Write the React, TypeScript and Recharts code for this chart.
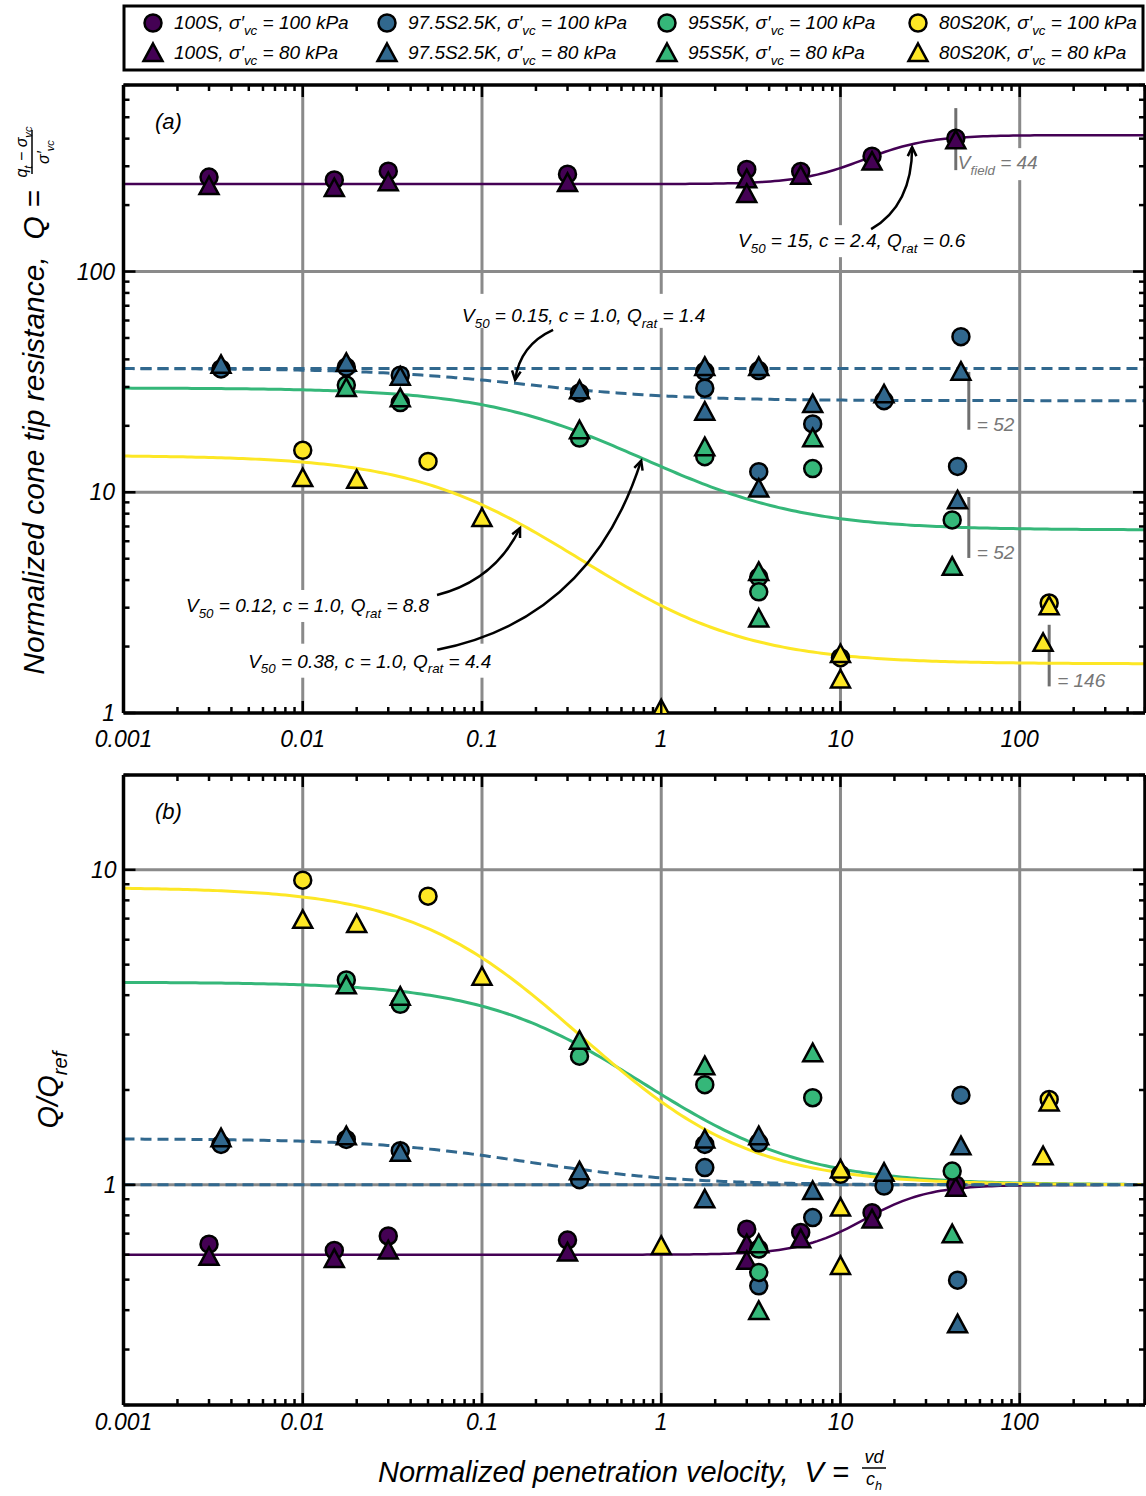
import React from 'react';
import { ComposedChart, XAxis, YAxis, Scatter, Line, ReferenceLine, ReferenceDot } from 'recharts';

const FONT = '"Liberation Sans", Arial, Helvetica, sans-serif';
const PURPLE = '#440154';
const BLUE = '#31688e';
const GREEN = '#35b779';
const YELLOW = '#fde725';
const GRID = '#8a8a8a';
const FIELD = '#6f6f6f';

type Pt = [number, number];

// ---------- axes ----------
const X_DOMAIN: [number, number] = [0.001, 500];
const X_MAJOR = [0.001, 0.01, 0.1, 1, 10, 100];
const X_LABELS = ['0.001', '0.01', '0.1', '1', '10', '100'];
const QA_DOMAIN: [number, number] = [1, 700];
const QA_MAJOR = [1, 10, 100];
const QA_LABELS = ['1', '10', '100'];
const QB_DOMAIN: [number, number] = [0.2, 20];
const QB_MAJOR = [1, 10];
const QB_LABELS = ['1', '10'];

// ---------- mixes ----------
const MIXES = ['100S', '97.5S2.5K', '95S5K', '80S20K'];
const MIX_COLORS = [PURPLE, BLUE, GREEN, YELLOW];
const STRESSES = [100, 80];

// backbone fit parameters (per mix)
const FIT_V50 = [15, 0.15, 0.38, 0.12];
const FIT_C = [2.4, 1.0, 1.0, 1.0];
const FIT_QRAT = [0.6, 1.4, 4.4, 8.8];
const FIT_QREF = [415, 26.0, 6.75, 1.67];

// field velocities
const FIELD_V = [44, 52, 52, 146];
const FIELD_TOP = [550, 35.1, 9.52, 2.51];
const FIELD_BOTTOM = [288, 19.2, 5.04, 1.32];

// ---------- panel (a): Q ----------
const S100_100A: Pt[] = [[0.003, 268], [0.015, 260], [0.03, 285], [0.3, 276], [3, 290], [6, 284], [15, 333], [44, 402]];
const S100_80A: Pt[] = [[0.003, 244], [0.015, 239], [0.03, 254], [0.3, 252], [3, 262], [3, 225], [6, 272], [15, 315], [44, 394]];
const K25_100A: Pt[] = [[0.0035, 36.2], [0.0175, 36.9], [0.035, 33.9], [0.35, 28.2], [1.75, 35.3], [1.75, 29.6], [3.5, 35.6], [3.5, 12.4], [7, 20.4], [17.5, 26.0], [45, 13.1], [47, 50.7]];
const K25_80A: Pt[] = [[0.0035, 37.8], [0.0175, 38.6], [0.035, 33.4], [0.35, 29.0], [1.75, 37.0], [1.75, 23.2], [3.5, 37.0], [3.5, 10.4], [7, 25.1], [17.5, 27.8], [47, 35.2], [45, 9.2]];
const K5_100A: Pt[] = [[0.0175, 30.6], [0.035, 25.5], [0.35, 17.6], [1.75, 14.5], [3.5, 4.13], [3.5, 3.54], [7, 12.8], [42, 7.49]];
const K5_80A: Pt[] = [[0.0175, 29.7], [0.035, 26.7], [0.35, 19.1], [1.75, 16.0], [3.5, 4.36], [3.5, 2.68], [7, 17.6], [42, 4.6]];
const K20_100A: Pt[] = [[0.01, 15.5], [0.05, 13.8], [10, 1.78], [146, 3.15]];
const K20_80A: Pt[] = [[0.01, 11.6], [0.02, 11.4], [0.1, 7.65], [1, 1.04], [10, 1.85], [10, 1.42], [146, 3.05], [135, 2.08]];

// ---------- panel (b): Q/Qref ----------
const S100_100B: Pt[] = [[0.003, 0.648], [0.015, 0.619], [0.03, 0.688], [0.3, 0.668], [3, 0.723], [6, 0.706], [15, 0.816], [44, 1.0]];
const S100_80B: Pt[] = [[0.003, 0.591], [0.015, 0.582], [0.03, 0.619], [0.3, 0.61], [3, 0.648], [3, 0.574], [6, 0.672], [15, 0.777], [44, 0.98]];
const K25_100B: Pt[] = [[0.0035, 1.344], [0.0175, 1.394], [0.035, 1.284], [0.35, 1.038], [1.75, 1.344], [1.75, 1.134], [3.5, 1.36], [3.5, 0.478], [7, 0.787], [17.5, 0.991], [45, 0.498], [47, 1.926]];
const K25_80B: Pt[] = [[0.0035, 1.406], [0.0175, 1.428], [0.035, 1.265], [0.35, 1.104], [1.75, 1.394], [1.75, 0.9], [3.5, 1.428], [7, 0.956], [17.5, 1.093], [47, 1.327], [45, 0.361]];
const K5_100B: Pt[] = [[0.0175, 4.47], [0.035, 3.74], [0.35, 2.56], [1.75, 2.08], [3.5, 0.625], [3.5, 0.527], [7, 1.89], [42, 1.106]];
const K5_80B: Pt[] = [[0.0175, 4.3], [0.035, 3.96], [0.35, 2.87], [1.75, 2.38], [3.5, 0.648], [3.5, 0.398], [7, 2.62], [42, 0.697]];
const K20_100B: Pt[] = [[0.01, 9.27], [0.05, 8.25], [10, 1.08], [146, 1.866]];
const K20_80B: Pt[] = [[0.01, 6.94], [0.02, 6.73], [0.1, 4.58], [1, 0.64], [10, 1.12], [10, 0.847], [10, 0.553], [146, 1.826], [135, 1.234]];

const CIRCLES_A = [S100_100A, K25_100A, K5_100A, K20_100A];
const TRIANGLES_A = [S100_80A, K25_80A, K5_80A, K20_80A];
const CIRCLES_B = [S100_100B, K25_100B, K5_100B, K20_100B];
const TRIANGLES_B = [S100_80B, K25_80B, K5_80B, K20_80B];

// ---------- helpers ----------
const toRows = (pts: Pt[]) => pts.map(([v, q]) => ({ v, q }));

function decadeTicks([lo, hi]: [number, number]) {
  const out: number[] = [];
  for (let e = Math.floor(Math.log10(lo)); e <= Math.ceil(Math.log10(hi)); e++) {
    for (let m = 1; m <= 9; m++) {
      const v = Number((m * Math.pow(10, e)).toPrecision(6));
      if (v >= lo * 0.999999 && v <= hi * 1.000001) out.push(v);
    }
  }
  return out;
}
const X_TICKS = decadeTicks(X_DOMAIN);
const QA_TICKS = decadeTicks(QA_DOMAIN);
const QB_TICKS = decadeTicks(QB_DOMAIN);

// backbone curve Q/Qref
const backbone = (v: number, k: number) => 1 + (FIT_QRAT[k] - 1) / (1 + Math.pow(v / FIT_V50[k], FIT_C[k]));
const V_SAMPLES = Array.from({ length: 241 }, (_, i) => Math.pow(10, -3 + (i * (Math.log10(500) + 3)) / 240));
const curveA = (k: number) => V_SAMPLES.map((v) => ({ v, q: FIT_QREF[k] * backbone(v, k) }));
const curveB = (k: number) => V_SAMPLES.map((v) => ({ v, q: backbone(v, k) }));

type Seg = { t: string; sub?: boolean };
const s = (t: string, sub = false): Seg => ({ t, sub });

function MathText({ x, y, segs, size, fill = '#000', anchor = 'start' }: { x: number; y: number; segs: Seg[]; size: number; fill?: string; anchor?: string }) {
  let shift = 0;
  const kids = segs.map((g, i) => {
    const target = g.sub ? size * 0.3 : 0;
    const dy = target - shift;
    shift = target;
    return (
      <tspan key={i} dy={dy} fontSize={g.sub ? size * 0.7 : size}>
        {g.t}
      </tspan>
    );
  });
  return (
    <text x={x} y={y} fontFamily={FONT} fontStyle="italic" fontSize={size} fill={fill} textAnchor={anchor as any} style={{ whiteSpace: 'pre' }}>
      {kids}
    </text>
  );
}

const sigmaVc = (pre: string, post: string): Seg[] => [s(pre + 'σ′'), s('vc', true), s(post)];
const fitLabel = (k: number): Seg[] => [
  s('V'), s('50', true), s(` = ${FIT_V50[k]}, c = ${FIT_C[k].toFixed(1)}, Q`), s('rat', true), s(` = ${FIT_QRAT[k].toFixed(1)}`),
];

// ---------- markers ----------
const R = 8.5;
const circleShape = (fill: string) => (p: any) => (
  <circle cx={p.cx} cy={p.cy} r={R} fill={fill} stroke="#000" strokeWidth={2.5} />
);
const triPath = (cx: number, cy: number, h = 9.5) => `M${cx},${cy - h}L${cx + h},${cy + h * 0.85}L${cx - h},${cy + h * 0.85}Z`;
const triangleShape = (fill: string) => (p: any) => (
  <path d={triPath(p.cx, p.cy)} fill={fill} stroke="#000" strokeWidth={2.5} />
);

// ---------- ticks ----------
function axisTick(side: 'bottom' | 'top' | 'left' | 'right', majors: number[], labels: string[], gap = 0) {
  return (props: any) => {
    const { x, y, payload } = props;
    const v = Number(payload?.value);
    const idx = majors.findIndex((m) => Math.abs(m - v) / m < 1e-6);
    const len = idx >= 0 ? 12 : 6;
    let x2 = x;
    let y2 = y;
    if (side === 'bottom') y2 = y - len;
    if (side === 'top') y2 = y + len;
    if (side === 'left') x2 = x + len;
    if (side === 'right') x2 = x - len;
    return (
      <g>
        <line x1={x} y1={y} x2={x2} y2={y2} stroke="#000" strokeWidth={2.5} />
        {idx >= 0 && side === 'bottom' && (
          <text x={x} y={y + gap} textAnchor="middle" dominantBaseline="central" fontFamily={FONT} fontStyle="italic" fontSize={23} fill="#000">
            {labels[idx]}
          </text>
        )}
        {idx >= 0 && side === 'left' && (
          <text x={x - gap} y={y} textAnchor="end" dominantBaseline="central" fontFamily={FONT} fontStyle="italic" fontSize={23} fill="#000">
            {labels[idx]}
          </text>
        )}
      </g>
    );
  };
}

const AXIS_LINE = { stroke: '#000', strokeWidth: 3.5 };

function frameAxes(yDomain: [number, number], yTicks: number[], yMajor: number[], yLabels: string[], xGap: number, yGap: number) {
  const common = { type: 'number' as const, scale: 'log' as const, allowDataOverflow: true, interval: 0 as const, tickSize: 0, tickMargin: 0, tickLine: false, axisLine: AXIS_LINE };
  return [
    <XAxis key="xb" dataKey="v" domain={X_DOMAIN} ticks={X_TICKS} height={1} tick={axisTick('bottom', X_MAJOR, X_LABELS, xGap)} {...common} />,
    <XAxis key="xt" xAxisId="t" orientation="top" dataKey="v" domain={X_DOMAIN} ticks={X_TICKS} height={1} tick={axisTick('top', X_MAJOR, X_LABELS)} {...common} />,
    <YAxis key="yl" domain={yDomain} ticks={yTicks} width={1} tick={axisTick('left', yMajor, yLabels, yGap)} {...common} />,
    <YAxis key="yr" yAxisId="r" orientation="right" domain={yDomain} ticks={yTicks} width={1} tick={axisTick('right', yMajor, yLabels)} {...common} />,
  ];
}

function gridLines(yMajor: number[], yDomain: [number, number]) {
  return [
    ...X_MAJOR.filter((v) => v > X_DOMAIN[0]).map((v) => (
      <ReferenceLine key={`gx${v}`} x={v} stroke={GRID} strokeWidth={3} zIndex={-50} />
    )),
    ...yMajor.filter((v) => v > yDomain[0]).map((v) => (
      <ReferenceLine key={`gy${v}`} y={v} stroke={GRID} strokeWidth={3} zIndex={-50} />
    )),
  ];
}

function markerSeries(circles: Pt[][], triangles: Pt[][], tag: string) {
  const out: any[] = [];
  MIX_COLORS.forEach((c, k) => {
    out.push(<Scatter key={`${tag}c${k}`} data={toRows(circles[k])} dataKey="q" shape={circleShape(c)} isAnimationActive={false} />);
    out.push(<Scatter key={`${tag}t${k}`} data={toRows(triangles[k])} dataKey="q" shape={triangleShape(c)} isAnimationActive={false} />);
  });
  return out;
}

// ---------- annotations in panel (a) ----------
type Note = { k: number; v: number; q: number; tail: Pt; bend: Pt; at: Pt; box: [number, number, number, number] };
const NOTES: Note[] = [
  { k: 0, v: 25.1, q: 366, tail: [-41, 82], bend: [0, 58], at: [-174, 100], box: [-178, 78, 240, 32] },
  { k: 1, v: 0.153, q: 32.3, tail: [38, -50], bend: [5, -35], at: [-53, -58], box: [-57, -86, 258, 34] },
  { k: 3, v: 0.163, q: 6.89, tail: [-83, 67], bend: [-25, 52], at: [-334, 84], box: [-338, 62, 258, 32] },
  { k: 2, v: 0.773, q: 13.9, tail: [-204, 189], bend: [-51, 159], at: [-393, 207], box: [-397, 183, 258, 34] },
];

const noteShape = (n: Note) => (p: any) => {
  const { cx, cy } = p;
  const tx = cx + n.tail[0];
  const ty = cy + n.tail[1];
  const bx = cx + n.bend[0];
  const by = cy + n.bend[1];
  const ang = Math.atan2(cy - by, cx - bx);
  const hl = 10;
  const ha = 0.45;
  const h1x = cx - hl * Math.cos(ang - ha);
  const h1y = cy - hl * Math.sin(ang - ha);
  const h2x = cx - hl * Math.cos(ang + ha);
  const h2y = cy - hl * Math.sin(ang + ha);
  return (
    <g>
      <rect x={cx + n.box[0]} y={cy + n.box[1]} width={n.box[2]} height={n.box[3]} fill="#fff" />
      <MathText x={cx + n.at[0]} y={cy + n.at[1]} size={19} segs={fitLabel(n.k)} />
      <path d={`M${tx},${ty}Q${bx},${by} ${cx},${cy}`} fill="none" stroke="#000" strokeWidth={2.5} />
      <path d={`M${h1x},${h1y}L${cx},${cy}L${h2x},${h2y}`} fill="none" stroke="#000" strokeWidth={2.5} />
    </g>
  );
};

const fieldLabelShape = (i: number) => (p: any) => {
  const { cx, cy } = p;
  if (i === 0) {
    return (
      <g>
        <rect x={cx + 2} y={cy - 22} width={88} height={32} fill="#fff" />
        <MathText x={cx + 2} y={cy - 1} size={19} fill="#777" segs={[s('V'), s('field', true), s(` = ${FIELD_V[i]}`)]} />
      </g>
    );
  }
  return <MathText x={cx + 8} y={cy + 1} size={19} fill="#777" segs={[s(`= ${FIELD_V[i]}`)]} />;
};

// ---------- panels ----------
function PanelA() {
  return (
    <ComposedChart width={1146} height={760} margin={{ top: 84, right: 0, bottom: 46, left: 122.5 }}>
      {gridLines(QA_MAJOR, QA_DOMAIN)}
      {FIELD_V.map((v, i) => (
        <ReferenceLine key={`f${i}`} segment={[{ x: v, y: FIELD_TOP[i] }, { x: v, y: FIELD_BOTTOM[i] }]} stroke={FIELD} strokeWidth={3} />
      ))}
      <Line data={curveA(0)} dataKey="q" type="linear" stroke={PURPLE} strokeWidth={2.5} dot={false} isAnimationActive={false} />
      <Line data={curveA(2)} dataKey="q" type="linear" stroke={GREEN} strokeWidth={3} dot={false} isAnimationActive={false} />
      <Line data={curveA(3)} dataKey="q" type="linear" stroke={YELLOW} strokeWidth={3} dot={false} isAnimationActive={false} />
      <ReferenceLine y={FIT_QREF[1] * FIT_QRAT[1]} stroke={BLUE} strokeWidth={3} strokeDasharray="11 6" />
      <Line data={curveA(1)} dataKey="q" type="linear" stroke={BLUE} strokeWidth={3} strokeDasharray="11 6" dot={false} isAnimationActive={false} />
      {FIELD_V.map((v, i) => (
        <ReferenceDot key={`fl${i}`} x={v} y={FIELD_BOTTOM[i]} shape={fieldLabelShape(i)} />
      ))}
      {NOTES.map((n, i) => (
        <ReferenceDot key={`n${i}`} x={n.v} y={n.q} shape={noteShape(n)} />
      ))}
      {markerSeries(CIRCLES_A, TRIANGLES_A, 'a')}
      {frameAxes(QA_DOMAIN, QA_TICKS, QA_MAJOR, QA_LABELS, 26, 8.5)}
    </ComposedChart>
  );
}

function PanelB() {
  return (
    <ComposedChart width={1146} height={736} margin={{ top: 14, right: 0, bottom: 90, left: 122.5 }}>
      {gridLines(QB_MAJOR, QB_DOMAIN)}
      <Line data={curveB(0)} dataKey="q" type="linear" stroke={PURPLE} strokeWidth={2.5} dot={false} isAnimationActive={false} />
      <Line data={curveB(2)} dataKey="q" type="linear" stroke={GREEN} strokeWidth={3} dot={false} isAnimationActive={false} />
      <Line data={curveB(3)} dataKey="q" type="linear" stroke={YELLOW} strokeWidth={3} dot={false} isAnimationActive={false} />
      <ReferenceLine y={1} stroke={BLUE} strokeWidth={3} strokeDasharray="11 6" />
      <Line data={curveB(1)} dataKey="q" type="linear" stroke={BLUE} strokeWidth={3} strokeDasharray="11 6" dot={false} isAnimationActive={false} />
      {markerSeries(CIRCLES_B, TRIANGLES_B, 'b')}
      {frameAxes(QB_DOMAIN, QB_TICKS, QB_MAJOR, QB_LABELS, 17, 7)}
    </ComposedChart>
  );
}

// ---------- legend and titles ----------
const LEG_MARK_X = [153, 387, 667, 918];
const LEG_ROW_Y = [23, 53];

function Overlay() {
  return (
    <svg width={1146} height={1496} style={{ position: 'absolute', left: 0, top: 0, pointerEvents: 'none' }}>
      <rect x={124} y={6} width={1019} height={64} fill="#fff" stroke="#000" strokeWidth={3} />
      {MIXES.map((m, k) =>
        STRESSES.map((st, j) => {
          const mx = LEG_MARK_X[k];
          const my = LEG_ROW_Y[j];
          return (
            <g key={`${k}-${j}`}>
              {j === 0 ? (
                <circle cx={mx} cy={my} r={R} fill={MIX_COLORS[k]} stroke="#000" strokeWidth={2.5} />
              ) : (
                <path d={triPath(mx, my)} fill={MIX_COLORS[k]} stroke="#000" strokeWidth={2.5} />
              )}
              <MathText x={mx + 21} y={my + 6} size={19} segs={sigmaVc(`${m}, `, ` = ${st} kPa`)} />
            </g>
          );
        })
      )}

      <text x={155} y={129} fontFamily={FONT} fontStyle="italic" fontSize={22}>(a)</text>
      <text x={155} y={819} fontFamily={FONT} fontStyle="italic" fontSize={22}>(b)</text>

      {/* panel (a) y title */}
      <g transform="translate(44,400) rotate(-90)">
        <MathText x={218} y={0} size={30} anchor="end" segs={[s('Normalized cone tip resistance,  Q = ')]} />
        <MathText x={248} y={-17} size={16} anchor="middle" segs={[s('q'), s('t', true), s(' − σ'), s('vc', true)]} />
        <line x1={226} x2={270} y1={-12} y2={-12} stroke="#000" strokeWidth={1.5} />
        <MathText x={248} y={5} size={16} anchor="middle" segs={[s('σ′'), s('vc', true)]} />
      </g>

      {/* panel (b) y title */}
      <g transform="translate(58,1090) rotate(-90)">
        <MathText x={0} y={0} size={29} anchor="middle" segs={[s('Q/Q'), s('ref', true)]} />
      </g>

      {/* x title */}
      <MathText x={857} y={1482} size={29} anchor="end" segs={[s('Normalized penetration velocity,  V = ')]} />
      <MathText x={874} y={1463} size={18} anchor="middle" segs={[s('vd')]} />
      <line x1={862} x2={886} y1={1468} y2={1468} stroke="#000" strokeWidth={1.5} />
      <MathText x={874} y={1485} size={18} anchor="middle" segs={[s('c'), s('h', true)]} />
    </svg>
  );
}

export default function App() {
  return (
    <div style={{ position: 'absolute', left: 0, top: 0, width: 1146, height: 1496, background: '#fff', overflow: 'hidden' }}>
      <div style={{ position: 'absolute', left: 0, top: 0 }}>
        <PanelA />
      </div>
      <div style={{ position: 'absolute', left: 0, top: 760 }}>
        <PanelB />
      </div>
      <Overlay />
    </div>
  );
}
